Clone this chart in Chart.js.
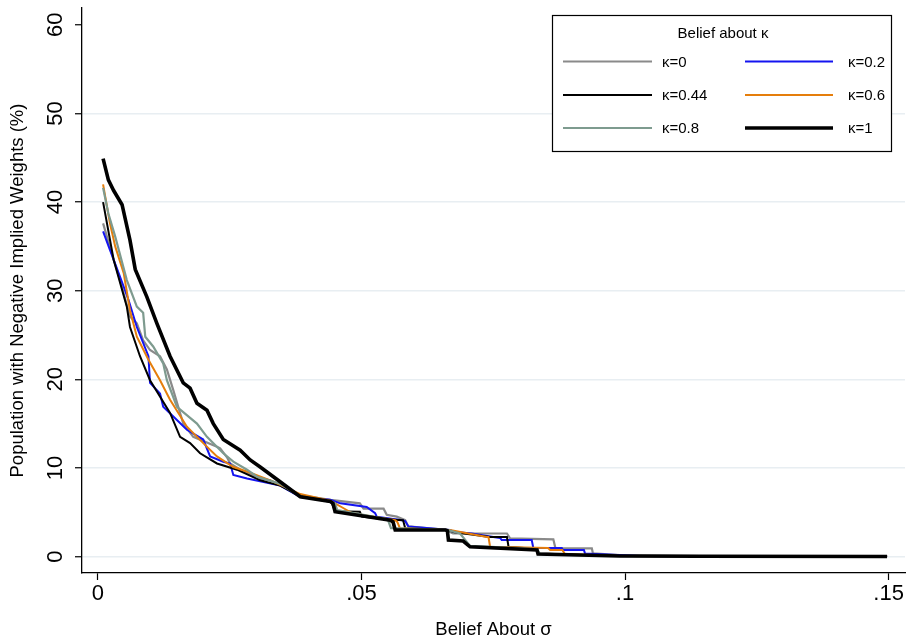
<!DOCTYPE html>
<html>
<head>
<meta charset="utf-8">
<script src="https://cdn.jsdelivr.net/npm/chart.js@4.4.1/dist/chart.umd.min.js"></script>
<style>
html, body { margin: 0; padding: 0; background: #fff; }
#wrap { width: 907px; height: 641px; position: relative; }
</style>
</head>
<body>
<div id="wrap"><canvas id="chart"></canvas></div>
<script>
'use strict';

const FONT = '"Liberation Sans", Arial, sans-serif';

// ── data: belief about sigma vs share with negative weights (%) ──
const k0X   = [0.001, 0.003, 0.0042, 0.0061, 0.0074, 0.0086, 0.0099, 0.0118, 0.0131, 0.0143, 0.0156, 0.0162, 0.0181, 0.0226, 0.0232, 0.0245, 0.0251, 0.0276, 0.0308, 0.0327, 0.0384, 0.0441, 0.0497, 0.0504, 0.0542, 0.0548, 0.0567, 0.0583, 0.0589, 0.0659, 0.0674, 0.0776, 0.0782, 0.0864, 0.0868, 0.0937, 0.0939, 0.099, 0.1142, 0.1332, 0.1497];
const k0Y   = [37.6, 33.5, 31.2, 27.1, 26.3, 24.4, 23.3, 22.6, 21.1, 18.8, 16.2, 15.0, 13.5, 12.4, 12.2, 11.2, 10.5, 9.6, 8.8, 8.6, 6.9, 6.4, 6.0, 5.4, 5.4, 4.7, 4.5, 4.1, 3.4, 3.0, 2.6, 2.6, 2.05, 1.94, 0.92, 0.92, 0.36, 0.17, 0.06, 0.02, 0.0];

const k02X  = [0.001, 0.0023, 0.0042, 0.0058, 0.0074, 0.0096, 0.0099, 0.0118, 0.0124, 0.015, 0.0169, 0.020, 0.0213, 0.0238, 0.0251, 0.0257, 0.0283, 0.0346, 0.0384, 0.0441, 0.046, 0.051, 0.0526, 0.0529, 0.0577, 0.0583, 0.0589, 0.0668, 0.0674, 0.0709, 0.075, 0.0763, 0.0766, 0.0823, 0.0826, 0.088, 0.0882, 0.0922, 0.0924, 0.1028, 0.1497];
const k02Y  = [36.7, 34.6, 31.6, 29.0, 25.9, 22.6, 19.6, 18.4, 16.9, 15.4, 14.3, 13.2, 11.3, 10.7, 10.5, 9.2, 8.8, 8.0, 6.7, 6.4, 6.0, 5.6, 4.9, 4.5, 4.1, 4.0, 3.4, 3.0, 2.8, 2.6, 2.2, 2.1, 1.87, 1.87, 0.96, 0.96, 0.73, 0.73, 0.35, 0.06, 0.0];

const k044X = [0.001, 0.0014, 0.003, 0.0055, 0.0061, 0.008, 0.0099, 0.0137, 0.0156, 0.0175, 0.0194, 0.0226, 0.0264, 0.0308, 0.0346, 0.0384, 0.0441, 0.0444, 0.045, 0.0497, 0.0501, 0.0545, 0.0579, 0.0583, 0.0663, 0.0677, 0.0744, 0.0776, 0.0779, 0.0831, 0.0835, 0.099, 0.1497];
const k044Y = [40.0, 38.7, 33.5, 28.2, 25.9, 22.6, 19.9, 16.2, 13.5, 12.8, 11.65, 10.5, 9.8, 8.6, 8.0, 6.8, 6.2, 6.0, 5.1, 5.06, 4.5, 4.2, 4.1, 3.2, 3.0, 2.75, 2.2, 2.2, 1.1, 0.85, 0.34, 0.06, 0.0];

const k06X  = [0.001, 0.0023, 0.0033, 0.0049, 0.0061, 0.0074, 0.0096, 0.0118, 0.0137, 0.0169, 0.020, 0.0226, 0.0257, 0.0283, 0.0327, 0.0384, 0.0441, 0.0472, 0.0482, 0.0503, 0.0564, 0.0568, 0.0573, 0.0668, 0.0738, 0.0741, 0.0744, 0.0854, 0.0858, 0.0881, 0.0886, 0.099, 0.1497];
const k06Y  = [42.0, 37.6, 35.0, 32.0, 27.8, 24.8, 22.2, 19.9, 17.7, 14.65, 12.8, 11.3, 10.1, 9.6, 8.6, 7.05, 6.3, 5.25, 4.9, 4.7, 4.1, 3.9, 3.2, 3.0, 2.2, 2.2, 1.1, 0.96, 0.73, 0.73, 0.28, 0.06, 0.0];

const k08X  = [0.001, 0.002, 0.0033, 0.0055, 0.0074, 0.0086, 0.009, 0.0105, 0.0124, 0.0131, 0.015, 0.0188, 0.0207, 0.0238, 0.0257, 0.0283, 0.0302, 0.0346, 0.0384, 0.0441, 0.045, 0.0454, 0.055, 0.0556, 0.0663, 0.0687, 0.0706, 0.0833, 0.0839, 0.099, 0.1497];
const k08Y  = [41.6, 38.7, 36.1, 31.2, 28.2, 27.5, 24.8, 23.7, 21.8, 19.9, 16.9, 15.0, 13.5, 11.65, 10.7, 9.8, 9.0, 8.2, 6.75, 6.2, 6.0, 5.25, 4.2, 3.2, 3.0, 2.6, 1.2, 0.85, 0.28, 0.06, 0.0];

const k1X   = [0.001, 0.002, 0.003, 0.0046, 0.0061, 0.0071, 0.0093, 0.0112, 0.0137, 0.0162, 0.0175, 0.0188, 0.0207, 0.0219, 0.0238, 0.027, 0.0289, 0.0308, 0.0342, 0.0384, 0.0441, 0.0446, 0.045, 0.0555, 0.056, 0.0564, 0.0659, 0.0663, 0.0665, 0.0693, 0.0706, 0.0833, 0.0835, 0.099, 0.114, 0.1497];
const k1Y   = [44.9, 42.5, 41.3, 39.7, 35.7, 32.4, 29.3, 26.3, 22.6, 19.6, 19.0, 17.3, 16.5, 15.0, 13.2, 12.0, 10.9, 10.1, 8.6, 6.75, 6.2, 6.0, 5.06, 4.1, 3.9, 3.0, 3.0, 2.9, 1.87, 1.75, 1.1, 0.73, 0.28, 0.06, 0.03, 0.0];

const seriesLabels = ['κ=0', 'κ=0.2', 'κ=0.44', 'κ=0.6', 'κ=0.8', 'κ=1'];
const seriesX      = [k0X, k02X, k044X, k06X, k08X, k1X];
const seriesY      = [k0Y, k02Y, k044Y, k06Y, k08Y, k1Y];
const seriesColors = ['#8a8a8a', '#1414f0', '#000000', '#e57e0c', '#7e9b8f', '#000000'];
const seriesWidths = [2.2, 2, 2, 2, 2.2, 3.6];

const xTicks = [0, 0.05, 0.1, 0.15];
const xTickLabels = ['0', '.05', '.1', '.15'];
const yTicks = [0, 10, 20, 30, 40, 50, 60];

const legendTitle = 'Belief about κ';

// ── Stata-style rotated y labels + boxed two-column legend ──
const stataDecor = {
    id: 'stataDecor',
    afterDraw(chart) {
        const ctx = chart.ctx;
        const ys = chart.scales.y;

        ctx.save();
        ctx.fillStyle = '#000';
        ctx.font = '22px ' + FONT;
        ctx.textAlign = 'center';
        ctx.textBaseline = 'middle';
        yTicks.forEach(v => {
            ctx.save();
            ctx.translate(56, ys.getPixelForValue(v));
            ctx.rotate(-Math.PI / 2);
            ctx.fillText(String(v), 0, 0);
            ctx.restore();
        });

        // legend box
        const bx = 552.5, by = 15.5, bw = 339, bh = 136;
        ctx.fillStyle = '#fff';
        ctx.fillRect(bx, by, bw, bh);
        ctx.strokeStyle = '#000';
        ctx.lineWidth = 1.2;
        ctx.strokeRect(bx, by, bw, bh);

        ctx.fillStyle = '#000';
        ctx.font = '15px ' + FONT;
        ctx.textAlign = 'center';
        ctx.fillText(legendTitle, 723, 34);

        const rowY = [61.5, 95, 128];
        const cols = [{ x0: 563, x1: 652, tx: 662 }, { x0: 745, x1: 833, tx: 848 }];
        ctx.textAlign = 'left';
        chart.data.datasets.forEach((ds, i) => {
            const c = cols[i % 2];
            const y = rowY[Math.floor(i / 2)];
            ctx.strokeStyle = ds.borderColor;
            ctx.lineWidth = ds.borderWidth;
            ctx.beginPath();
            ctx.moveTo(c.x0, y);
            ctx.lineTo(c.x1, y);
            ctx.stroke();
            ctx.fillText(ds.label, c.tx, y + 1);
        });
        ctx.restore();
    }
};

const el = document.getElementById('chart');
new Chart(el, {
    type: 'line',
    data: {
        datasets: seriesLabels.map((lbl, i) => ({
            label: lbl,
            data: seriesX[i].map((x, j) => ({ x: x, y: seriesY[i][j] })),
            borderColor: seriesColors[i],
            borderWidth: seriesWidths[i],
            pointRadius: 0,
            fill: false,
            tension: 0,
            order: seriesLabels.length - i,
        }))
    },
    options: {
        responsive: true,
        maintainAspectRatio: false,
        animation: false,
        devicePixelRatio: 1,
        layout: { padding: { top: 8, right: 2, left: 0, bottom: 0 } },
        plugins: {
            legend: { display: false },
            tooltip: { enabled: false }
        },
        scales: {
            x: {
                type: 'linear',
                min: -0.003,
                max: 0.1531,
                afterBuildTicks: s => { s.ticks = xTicks.map(v => ({ value: v })); },
                afterFit: s => { s.height = 68; },
                grid: { drawOnChartArea: false, tickColor: '#000', tickLength: 7, tickWidth: 1.2 },
                border: { color: '#000', width: 1.3 },
                ticks: {
                    color: '#000',
                    padding: 1,
                    maxRotation: 0,
                    font: { family: FONT, size: 22 },
                    callback: v => xTickLabels[xTicks.indexOf(v)]
                },
                title: {
                    display: true,
                    text: 'Belief About σ',
                    color: '#000',
                    padding: { top: 0, bottom: 0 },
                    font: { family: FONT, size: 18.5 }
                }
            },
            y: {
                type: 'linear',
                min: -1.86,
                max: 61.9,
                afterBuildTicks: s => { s.ticks = yTicks.map(v => ({ value: v })); },
                afterFit: s => { s.width = 82; },
                grid: {
                    color: c => (c.tick && c.tick.value === 60) ? 'rgba(0,0,0,0)' : '#e8eef2',
                    lineWidth: 1.5,
                    tickColor: '#000',
                    tickLength: 7,
                    tickWidth: 1.2
                },
                border: { color: '#000', width: 1.3 },
                ticks: { display: false },
                title: {
                    display: true,
                    text: 'Population with Negative Implied Weights (%)',
                    color: '#000',
                    padding: { top: 7, bottom: 0 },
                    font: { family: FONT, size: 18.5 }
                }
            }
        }
    },
    plugins: [stataDecor]
});
</script>
</body>
</html>
